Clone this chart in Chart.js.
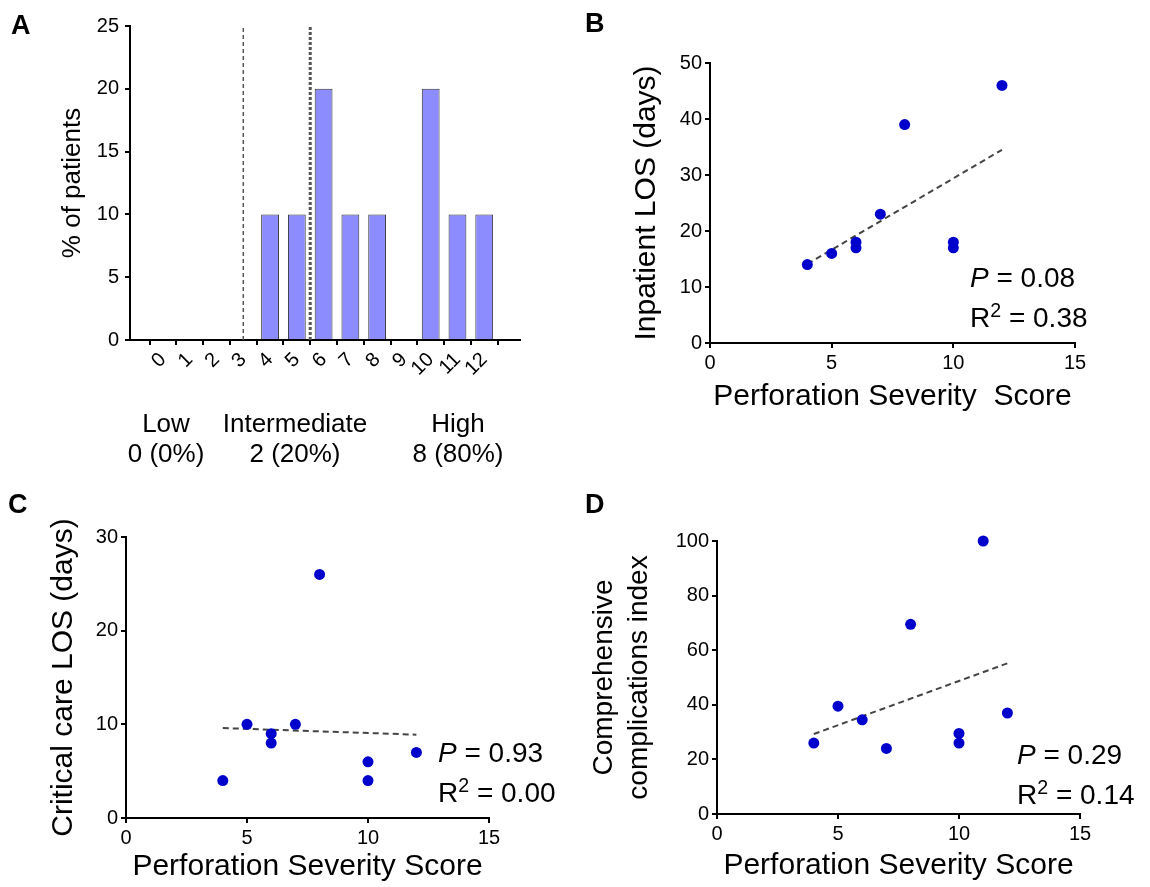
<!DOCTYPE html>
<html>
<head>
<meta charset="utf-8">
<script src="https://cdn.jsdelivr.net/npm/chart.js@4.4.0/dist/chart.umd.min.js"></script>
<style>
  html, body { margin: 0; padding: 0; background: #fff; }
  #fig { position: relative; width: 1150px; height: 887px; overflow: hidden;
         font-family: "Liberation Sans", Arial, sans-serif; color: #000; }
  #fig canvas { position: absolute; }
  .lbl { position: absolute; font-weight: bold; font-size: 27px; line-height: 27px; }
  .stat { position: absolute; font-size: 28px; line-height: 40px; white-space: nowrap; }
  .stat sup { font-size: 0.7em; vertical-align: 0.5em; line-height: 0; }
  .grp { position: absolute; font-size: 26px; line-height: 30px; text-align: center;
         white-space: nowrap; transform: translateX(-50%); }
</style>
</head>
<body>
<div id="fig">
  <canvas id="chartA" width="575" height="480" style="left:0;top:0"></canvas>
  <canvas id="chartB" width="575" height="440" style="left:575px;top:0"></canvas>
  <canvas id="chartC" width="575" height="407" style="left:0;top:480px"></canvas>
  <canvas id="chartD" width="575" height="407" style="left:575px;top:480px"></canvas>

  <div class="lbl" style="left:11px;top:12px">A</div>
  <div class="lbl" style="left:585px;top:10px">B</div>
  <div class="lbl" style="left:8px;top:491px">C</div>
  <div class="lbl" style="left:585px;top:491px">D</div>

  <div class="grp" style="left:166px;top:408px">Low<br>0 (0%)</div>
  <div class="grp" style="left:295px;top:408px">Intermediate<br>2 (20%)</div>
  <div class="grp" style="left:458px;top:408px">High<br>8 (80%)</div>

  <div class="stat" style="left:970px;top:258px"><i>P</i> = 0.08<br>R<sup>2</sup> = 0.38</div>
  <div class="stat" style="left:438px;top:733px"><i>P</i> = 0.93<br>R<sup>2</sup> = 0.00</div>
  <div class="stat" style="left:1017px;top:735px"><i>P</i> = 0.29<br>R<sup>2</sup> = 0.14</div>
</div>

<script>
// Panel A: distribution of perforation severity scores
const histScores = [0, 1, 2, 3, 4, 5, 6, 7, 8, 9, 10, 11, 12];
const histPercent = [0, 0, 0, 0, 10, 10, 20, 10, 10, 0, 20, 10, 10];
const cutoffs = [3, 5.5];

// Panel B: inpatient length of stay
const scoreB = [4, 5, 6, 6, 7, 8, 10, 10, 12];
const inpatientLOS = [14, 16, 18, 17, 23, 39, 18, 17, 46];
const trendBx = [4, 12];
const trendBy = [14.1, 34.5];

// Panel C: critical care length of stay
const scoreC = [4, 5, 6, 6, 7, 8, 10, 10, 12];
const criticalLOS = [4, 10, 9, 8, 10, 26, 6, 4, 7];
const trendCx = [4, 12];
const trendCy = [9.6, 8.9];

// Panel D: comprehensive complications index
const scoreD = [4, 5, 6, 7, 8, 10, 10, 11, 12];
const complicationsIdx = [26, 39.5, 34.5, 24, 69.5, 29.5, 26, 100, 37];
const trendDx = [4, 12];
const trendDy = [29.3, 55.2];

const FONT = '"Liberation Sans", Arial, sans-serif';
Chart.defaults.font.family = FONT;
Chart.defaults.color = '#000';
Chart.defaults.animation = false;
Chart.defaults.plugins.legend.display = false;
Chart.defaults.plugins.tooltip.enabled = false;

const POINT = '#0000cc';
const DASH = '#444';

const toXY = (xs, ys) => xs.map((x, i) => ({x: x, y: ys[i]}));

// box = chart area inside its canvas, so the axes land where they do in the figure
function layoutFor(box) {
  return {padding: {left: 0, top: box.top, right: box.w - box.right, bottom: 0}};
}

function axisGrid() {
  return {display: true, drawOnChartArea: false, drawTicks: true, tickLength: 5, color: '#000', lineWidth: 2};
}

function axisBorder() {
  return {display: true, color: '#000', width: 2};
}

function scatterPanel(id, box, cfg) {
  new Chart(document.getElementById(id), {
    type: 'scatter',
    data: {
      datasets: [
        {
          data: toXY(cfg.xs, cfg.ys),
          backgroundColor: POINT,
          borderWidth: 0,
          pointRadius: 5.5,
          clip: false,
          order: 0,
        },
        {
          type: 'line',
          data: toXY(cfg.tx, cfg.ty),
          borderColor: DASH,
          borderWidth: 2,
          borderDash: [6, 4],
          pointRadius: 0,
          fill: false,
          order: 1,
        },
      ],
    },
    options: {
      responsive: false,
      layout: layoutFor(box),
      scales: {
        x: {
          type: 'linear', min: 0, max: 15,
          grid: axisGrid(), border: axisBorder(),
          ticks: {stepSize: 5, color: '#000', font: {size: 20}, padding: 3},
          title: {display: true, text: cfg.xTitle, color: '#000', font: {size: 30},
                  padding: {top: 0, bottom: cfg.xTitlePad}},
          afterFit: s => { s.height = box.h - box.bottom; },
        },
        y: {
          type: 'linear', min: 0, max: cfg.yMax,
          grid: axisGrid(), border: axisBorder(),
          ticks: {stepSize: cfg.yStep, color: '#000', font: {size: 20}, padding: 3},
          title: {display: true, text: cfg.yTitle, color: '#000',
                  font: {size: cfg.yTitleSize, lineHeight: cfg.yTitleLH || 1.2},
                  padding: {top: cfg.yTitlePad, bottom: 0}},
          afterFit: s => { s.width = box.left; },
        },
      },
    },
  });
}

// Panel A
const boxA = {w: 575, h: 480, left: 130, top: 26, right: 520, bottom: 340};
new Chart(document.getElementById('chartA'), {
  type: 'bar',
  data: {
    datasets: [
      {
        data: toXY(histScores, histPercent),
        backgroundColor: '#8c8cff',
        borderColor: '#333',
        borderWidth: 1,
        borderSkipped: 'start',
        categoryPercentage: 1,
        barPercentage: 0.665,
        order: 0,
      },
      {
        type: 'line',
        data: [{x: cutoffs[0], y: 0}, {x: cutoffs[0], y: 25}],
        borderColor: '#555',
        borderWidth: 1.5,
        borderDash: [4, 3],
        pointRadius: 0,
        order: 1,
      },
      {
        type: 'line',
        data: [{x: cutoffs[1], y: 0}, {x: cutoffs[1], y: 25}],
        borderColor: '#555',
        borderWidth: 3,
        borderDash: [3, 2],
        pointRadius: 0,
        order: 1,
      },
    ],
  },
  options: {
    responsive: false,
    layout: layoutFor(boxA),
    scales: {
      x: {
        type: 'linear', min: -0.672, max: 12.776,
        grid: axisGrid(), border: axisBorder(),
        afterBuildTicks: s => { s.ticks = histScores.map(v => ({value: v})); },
        ticks: {color: '#000', font: {size: 20}, padding: 3, autoSkip: false,
                minRotation: 45, maxRotation: 45},
        afterFit: s => { s.height = boxA.h - boxA.bottom; },
      },
      y: {
        type: 'linear', min: 0, max: 25,
        grid: axisGrid(), border: axisBorder(),
        ticks: {stepSize: 5, color: '#000', font: {size: 20}, padding: 6},
        title: {display: true, text: '% of patients', color: '#000', font: {size: 26},
                padding: {top: 57, bottom: 0}},
        afterFit: s => { s.width = boxA.left; },
      },
    },
  },
});

scatterPanel('chartB', {w: 575, h: 440, left: 135, top: 63, right: 500, bottom: 343}, {
  xs: scoreB, ys: inpatientLOS, tx: trendBx, ty: trendBy,
  yMax: 50, yStep: 10,
  yTitle: 'Inpatient LOS (days)', yTitleSize: 30, yTitlePad: 54,
  xTitle: 'Perforation Severity  Score', xTitlePad: 25,
});

scatterPanel('chartC', {w: 575, h: 407, left: 126, top: 57, right: 489, bottom: 338}, {
  xs: scoreC, ys: criticalLOS, tx: trendCx, ty: trendCy,
  yMax: 30, yStep: 10,
  yTitle: 'Critical care LOS (days)', yTitleSize: 30, yTitlePad: 46,
  xTitle: 'Perforation Severity Score', xTitlePad: 2,
});

scatterPanel('chartD', {w: 575, h: 407, left: 142, top: 61, right: 505, bottom: 334}, {
  xs: scoreD, ys: complicationsIdx, tx: trendDx, ty: trendDy,
  yMax: 100, yStep: 20,
  yTitle: ['Comprehensive', 'complications index'], yTitleSize: 28, yTitleLH: 1.25, yTitlePad: 12,
  xTitle: 'Perforation Severity Score', xTitlePad: 3,
});
</script>
</body>
</html>
